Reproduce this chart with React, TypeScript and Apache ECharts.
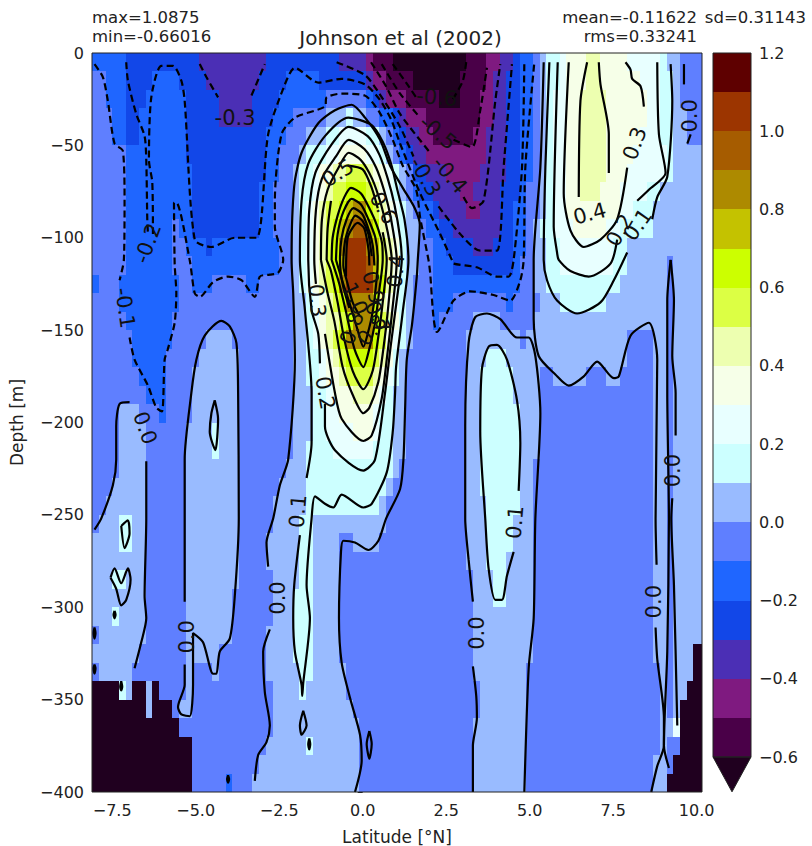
import React, { useEffect, useRef } from "react";
import * as echarts from "echarts";

const FONT = "DejaVu Sans";
const START = -8.105;
const END = 10.16;
const A = -0.65, B = -0.55, C = -0.45, D = -0.35, E = -0.25, F = -0.15, G = -0.05, H = 0.05, I = 0.15, J = 0.25,
  K = 0.35, L = 0.45, M = 0.55, N = 0.65, O = 0.75, P = 0.85, Q = 0.95, R = 1.05;

const levelFloors = [-0.6, -0.5, -0.4, -0.3, -0.2, -0.1, 0, 0.1, 0.2, 0.3, 0.4, 0.5, 0.6, 0.7, 0.8, 0.9, 1.0, 1.1];
const levelColors = ["#4a0048", "#7f1a80", "#4b2fb5", "#1247e8", "#1f66ff", "#5f7fff", "#99bbff", "#ccffff", "#e8ffff",
  "#f6ffe8", "#edffb0", "#dcff44", "#ccff00", "#c4c200", "#ad8a00", "#a65c00", "#9c3500", "#5e0000"];
const underColor = "#20001f";
const statsLeft = ["max=1.0875", "min=-0.66016"];
const statsRight = ["mean=-0.11622", "rms=0.33241"];
const statSd = "sd=0.31143";
const latTicks = [-7.5, -5, -2.5, 0, 2.5, 5, 7.5, 10];

// Each row is a 10 m band of the section; each run is [eastern edge in deg N, value].
const cellRows: number[][][] = [
  [[-7.1,F],[-4.9,E],[-2.9,D],[-.7,E],[.1,D],[.3,C],[.9,B],[3.1,A],[3.7,B],[4.1,C],[4.5,D],[4.7,E],[5.1,F],[5.3,G],[5.5,H],[5.9,I],[6.1,J],[6.7,K],[7.1,L],[7.9,K],[8.9,J],[9.1,I],[9.5,H],[END,G]],
  [[-7.7,G],[-7.1,F],[-6.3,E],[-5.5,F],[-4.7,E],[-3.1,D],[-2.3,E],[-1.3,F],[.1,E],[.3,D],[.7,C],[1.5,B],[2.9,A],[3.7,B],[3.9,C],[4.3,D],[4.7,E],[5.1,F],[5.3,G],[5.5,H],[5.9,I],[6.1,J],[6.7,K],[7.1,L],[8.3,K],[8.9,J],[9.3,I],[9.5,H],[END,G]],
  [[-7.7,G],[-7.1,F],[-6.5,E],[-5.3,F],[-4.3,E],[-3.3,D],[-2.5,E],[-1.1,F],[.1,G],[.3,F],[.5,E],[.7,D],[1.3,C],[2.3,B],[2.9,A],[3.5,B],[3.9,C],[4.3,D],[4.7,E],[5.1,F],[5.3,G],[5.5,H],[5.7,I],[6.1,J],[6.5,K],[7.3,L],[8.5,K],[8.9,J],[9.3,I],[9.5,H],[END,G]],
  [[-7.5,G],[-7.1,F],[-6.7,E],[-5.3,F],[-4.3,E],[-3.3,D],[-2.7,E],[-2.1,F],[-1.1,G],[-.5,H],[-.3,I],[.1,H],[.5,G],[.9,F],[1.1,E],[1.3,D],[1.9,C],[3.5,B],[3.9,C],[4.3,D],[4.7,E],[5.1,F],[5.3,G],[5.5,H],[5.7,I],[6.1,J],[6.5,K],[7.3,L],[8.5,K],[8.9,J],[9.3,I],[9.7,H],[END,G]],
  [[-7.5,G],[-7.1,F],[-6.7,E],[-5.3,F],[-2.9,E],[-2.3,F],[-1.7,G],[-1.1,H],[-.7,I],[.1,J],[.5,I],[.7,H],[.9,G],[1.1,F],[1.3,E],[1.7,D],[2.1,C],[3.3,B],[3.7,C],[4.3,D],[4.7,E],[5.1,F],[5.3,G],[5.5,H],[5.7,I],[6.1,J],[6.5,K],[7.3,L],[8.3,K],[8.9,J],[9.3,I],[9.7,H],[END,G]],
  [[-7.1,G],[-5.3,F],[-2.9,E],[-2.5,F],[-1.9,G],[-1.7,H],[-1.1,I],[-.7,J],[.1,K],[.5,J],[.7,I],[.9,H],[1.1,G],[1.3,F],[1.5,E],[1.9,D],[3.7,C],[4.3,D],[4.7,E],[5.1,F],[5.3,G],[5.5,H],[5.7,I],[6.1,J],[6.5,K],[7.3,L],[8.1,K],[9.1,J],[9.3,I],[END,H]],
  [[-7.1,G],[-5.1,F],[-2.9,E],[-2.5,F],[-2.1,G],[-1.9,H],[-1.5,I],[-1.3,J],[-.9,K],[-.5,L],[.1,M],[.3,L],[.7,K],[.9,J],[1.1,I],[1.3,H],[1.5,G],[1.9,E],[2.5,D],[3.5,C],[4.3,D],[4.7,E],[5.1,F],[5.3,G],[5.5,H],[5.7,I],[6.1,J],[6.5,K],[7.3,L],[7.9,K],[9.1,J],[9.3,I],[END,H]],
  [[-7.1,G],[-5.1,F],[-3.1,E],[-2.7,F],[-2.1,G],[-1.9,H],[-1.5,I],[-1.3,J],[-1.1,K],[-.9,L],[-.5,M],[.1,N],[.3,M],[.5,L],[.7,K],[.9,J],[1.1,I],[1.3,H],[1.5,G],[1.7,F],[2.1,E],[2.9,D],[3.3,C],[4.1,D],[4.7,E],[4.9,F],[5.3,G],[5.5,H],[5.7,I],[6.1,J],[6.5,K],[7.1,L],[7.7,K],[8.5,J],[8.9,I],[END,H]],
  [[-7.1,G],[-5.1,F],[-3.1,E],[-2.7,F],[-2.1,G],[-1.9,H],[-1.7,I],[-1.5,J],[-1.3,K],[-1.1,L],[-.7,M],[-.5,N],[-.3,O],[.1,P],[.3,N],[.5,M],[.7,L],[.9,K],[1.1,J],[1.3,I],[1.5,H],[1.7,G],[2.1,F],[2.3,E],[3.1,D],[3.5,C],[4.1,D],[4.5,E],[4.9,F],[5.3,G],[5.5,H],[5.7,I],[6.1,J],[7.7,K],[8.1,J],[8.7,I],[END,H]],
  [[-7.1,G],[-5.7,F],[-5.5,G],[-5.1,F],[-3.1,E],[-2.7,F],[-2.1,G],[-1.9,H],[-1.7,I],[-1.5,J],[-1.3,K],[-1.1,L],[-.9,M],[-.7,N],[-.5,O],[-.3,P],[.1,Q],[.3,O],[.5,N],[.7,L],[.9,K],[1.1,J],[1.3,I],[1.7,H],[1.9,G],[2.3,F],[2.7,E],[4.1,D],[4.5,E],[4.9,F],[5.1,G],[5.3,H],[5.7,I],[6.3,J],[7.3,K],[7.7,J],[8.7,I],[END,H]],
  [[-7.1,G],[-5.7,F],[-5.3,G],[-4.7,F],[-4.5,E],[-2.5,F],[-2.1,G],[-1.9,H],[-1.7,I],[-1.5,J],[-1.3,K],[-1.1,L],[-.9,M],[-.7,N],[-.5,P],[.1,R],[.3,P],[.5,O],[.7,M],[.9,L],[1.1,K],[1.3,I],[1.7,H],[2.1,G],[2.5,F],[3.3,E],[3.9,D],[4.5,E],[4.9,F],[5.1,G],[5.5,H],[5.9,I],[7.5,J],[7.9,I],[END,H]],
  [[-7.1,G],[-5.7,F],[-5.1,G],[-2.5,F],[-2.1,G],[-1.9,H],[-1.7,I],[-1.5,J],[-1.3,K],[-1.1,L],[-.9,M],[-.7,N],[-.5,O],[.1,R],[.3,Q],[.5,O],[.7,M],[.9,L],[1.1,K],[1.3,I],[1.7,H],[2.1,G],[2.7,F],[4.5,E],[4.7,F],[5.1,G],[5.5,H],[5.9,I],[7.5,J],[7.9,I],[9.1,H],[9.3,G],[END,H]],
  [[-7.9,F],[-7.3,G],[-5.5,F],[-5.1,G],[-4.5,F],[-3.5,G],[-3.1,F],[-2.1,G],[-1.9,H],[-1.7,I],[-1.5,J],[-1.3,K],[-1.1,L],[-.9,M],[-.7,N],[-.5,P],[.3,R],[.5,P],[.7,N],[.9,L],[1.1,J],[1.3,I],[1.5,H],[2.1,G],[4.7,F],[5.1,G],[5.5,H],[7.7,I],[9.1,H],[9.3,G],[END,H]],
  [[-7.3,G],[-5.5,F],[-2.1,G],[-1.7,H],[-1.5,I],[-1.3,J],[-1.1,K],[-.9,L],[-.7,M],[-.5,N],[.3,P],[.5,N],[.7,L],[.9,K],[1.1,J],[1.3,I],[1.5,H],[2.1,G],[2.7,F],[4.3,G],[4.5,F],[5.3,G],[5.9,H],[7.3,I],[9.1,H],[9.3,G],[END,H]],
  [[-7.1,G],[-5.7,F],[-2.1,G],[-1.7,H],[-1.5,I],[-1.3,J],[-1.1,K],[-.7,L],[-.5,M],[-.3,N],[.3,P],[.5,N],[.7,M],[.9,L],[1.1,K],[1.3,I],[1.5,H],[2.1,G],[2.3,F],[3.3,G],[4.1,H],[5.1,G],[9.1,H],[9.3,G],[END,H]],
  [[-6.9,G],[-5.7,F],[-4.7,G],[-3.9,H],[-2.1,G],[-1.7,H],[-1.5,I],[-1.3,J],[-1.1,K],[-.9,L],[-.7,M],[-.5,N],[.3,P],[.5,N],[.7,M],[.9,K],[1.1,J],[1.3,I],[1.5,H],[3.1,G],[4.7,H],[4.9,G],[7.9,H],[8.7,G],[9.1,H],[9.3,G],[END,H]],
  [[-6.9,G],[-5.9,F],[-4.9,G],[-3.7,H],[-2.1,G],[-1.7,H],[-1.3,I],[-1.1,J],[-.9,K],[-.7,L],[-.5,M],[.3,N],[.5,M],[.7,L],[.9,K],[1.1,I],[1.3,H],[3.1,G],[3.7,H],[4.3,I],[7.9,H],[8.7,G],[9.1,H],[9.3,G],[END,H]],
  [[-6.7,G],[-5.9,F],[-5.1,G],[-3.7,H],[-2.1,G],[-1.7,H],[-1.3,I],[-1.1,J],[-.7,K],[-.5,L],[.3,M],[.5,L],[.7,K],[.9,J],[1.1,I],[1.3,H],[3.1,G],[3.5,H],[4.5,I],[5.3,H],[5.7,G],[6.7,H],[7.3,G],[7.7,H],[8.7,G],[9.1,H],[9.3,G],[END,H]],
  [[-6.5,G],[-5.9,F],[-5.1,G],[-3.7,H],[-2.1,G],[-1.5,H],[-1.1,I],[-.9,J],[-.3,K],[.3,L],[.5,K],[.7,J],[.9,I],[1.3,H],[3.1,G],[3.5,H],[4.5,I],[5.3,H],[8.7,G],[9.1,H],[9.3,G],[END,H]],
  [[-7.3,G],[-6.7,H],[-6.1,G],[-5.9,F],[-5.1,G],[-3.7,H],[-2.1,G],[-1.5,H],[-1.1,I],[-.7,J],[.3,K],[.5,J],[.9,I],[1.3,H],[3.1,G],[3.5,H],[4.7,I],[5.3,H],[8.7,G],[9.1,H],[9.3,G],[END,H]],
  [[-7.3,G],[-6.5,H],[-5.3,G],[-4.5,H],[-4.3,I],[-3.7,H],[-2.1,G],[-1.5,H],[-1.1,I],[-.3,J],[.3,K],[.5,J],[.9,I],[1.3,H],[3.1,G],[3.5,H],[4.7,I],[5.3,H],[8.7,G],[9.1,H],[9.3,G],[END,H]],
  [[-7.3,G],[-6.5,H],[-5.3,G],[-4.5,H],[-4.3,I],[-3.7,H],[-2.1,G],[-1.7,H],[-.9,I],[.3,J],[.9,I],[1.3,H],[3.1,G],[3.5,H],[4.7,I],[5.3,H],[8.7,G],[9.1,H],[9.3,G],[END,H]],
  [[-7.3,G],[-6.5,H],[-5.3,G],[-3.7,H],[-2.3,G],[-1.7,H],[.9,I],[1.1,H],[3.1,G],[3.5,H],[4.7,I],[5.1,H],[8.7,G],[9.1,H],[9.3,G],[END,H]],
  [[-7.5,G],[-6.5,H],[-5.3,G],[-3.7,H],[-2.5,G],[-1.7,H],[.7,I],[.9,H],[3.1,G],[3.5,H],[4.7,I],[5.1,H],[8.7,G],[9.1,H],[9.3,G],[END,H]],
  [[-7.7,G],[-6.5,H],[-5.3,G],[-3.7,H],[-2.7,G],[-1.7,H],[.5,I],[.7,H],[3.1,G],[3.7,H],[4.7,I],[5.1,H],[8.7,G],[9.1,H],[9.3,G],[END,H]],
  [[-7.9,G],[-7.3,H],[-6.9,I],[-6.5,H],[-5.3,G],[-3.7,H],[-2.7,G],[-1.9,H],[-1.5,I],[.7,H],[3.1,G],[3.7,H],[4.5,I],[5.1,H],[8.7,G],[9.1,H],[9.3,G],[END,H]],
  [[-7.3,H],[-6.9,I],[-6.5,H],[-5.3,G],[-3.7,H],[-2.9,G],[-1.9,H],[-1.5,I],[-.7,H],[-.3,G],[.5,H],[3.1,G],[3.7,H],[4.5,I],[5.1,H],[8.7,G],[9.1,H],[9.3,G],[END,H]],
  [[-6.5,H],[-5.3,G],[-3.7,H],[-2.9,G],[-1.9,H],[-1.5,I],[-.7,H],[3.1,G],[3.7,H],[4.3,I],[5.1,H],[8.7,G],[9.1,H],[9.3,G],[END,H]],
  [[-7.5,H],[-7.1,I],[-6.5,H],[-5.3,G],[-3.7,H],[-2.7,G],[-1.9,H],[-1.5,I],[-.7,H],[3.3,G],[3.9,H],[4.3,I],[5.1,H],[8.7,G],[9.1,H],[9.3,G],[END,H]],
  [[-6.5,H],[-5.3,G],[-3.9,H],[-2.7,G],[-2.1,H],[-1.5,I],[-.7,H],[3.3,G],[3.9,H],[4.3,I],[5.1,H],[8.7,G],[9.1,H],[9.3,G],[END,H]],
  [[-7.5,H],[-7.3,I],[-6.5,H],[-5.3,G],[-3.9,H],[-2.7,G],[-2.1,H],[-1.5,I],[-.7,H],[3.3,G],[5.1,H],[8.7,G],[9.1,H],[9.3,G],[END,H]],
  [[-7.9,G],[-6.5,H],[-5.3,G],[-3.9,H],[-2.9,G],[-2.1,H],[-1.5,I],[-.7,H],[3.3,G],[5.1,H],[8.7,G],[9.1,H],[9.3,G],[END,H]],
  [[-6.7,H],[-5.3,G],[-4.3,H],[-2.9,G],[-2.1,H],[-1.5,I],[-.7,H],[3.3,G],[5.1,H],[8.7,G],[9.1,H],[9.3,G],[9.9,H],[END,A]],
  [[-7.9,G],[-6.9,H],[-5.3,G],[-5.1,H],[-4.5,G],[-4.3,H],[-2.9,G],[-1.9,H],[-1.5,I],[-.5,H],[3.3,G],[4.9,H],[8.9,G],[9.1,H],[9.3,G],[9.9,H],[END,A]],
  [[-7.3,A],[-7.1,I],[-6.9,H],[-6.5,A],[-6.3,H],[-6.1,A],[-5.3,G],[-5.1,H],[-2.7,G],[-1.9,H],[-1.7,I],[-.5,H],[3.5,G],[4.9,H],[8.9,G],[9.1,H],[9.3,G],[9.7,H],[END,A]],
  [[-6.5,A],[-6.3,H],[-5.7,A],[-5.5,G],[-5.1,H],[-2.7,G],[-.3,H],[3.5,G],[4.9,H],[8.9,G],[9.1,H],[9.3,G],[9.5,H],[END,A]],
  [[-5.5,A],[-2.7,G],[-.1,H],[3.3,G],[4.9,H],[8.9,G],[9.3,H],[9.5,J],[END,A]],
  [[-5.1,A],[-2.9,G],[-1.7,H],[-1.5,I],[-.1,H],[3.3,G],[4.9,H],[8.9,G],[9.1,H],[9.5,G],[END,A]],
  [[-5.1,A],[-3.1,G],[-.1,H],[3.3,G],[4.9,H],[8.7,G],[9.1,H],[9.3,G],[END,A]],
  [[-5.1,A],[-4.1,G],[-3.9,F],[-3.3,G],[-.1,H],[3.3,G],[4.9,H],[8.7,G],[9.1,H],[END,A]],
];

// Contour strands as [latitude, depth in m]; labels interrupt them as in the original.
const negativeContours: number[][][] = [
  [[-8.03,6],[-7.78,13],[-7.63,26],[-7.43,49],[-7.18,53],[-7.13,80],[-7.15,112],[-7.28,123]],
  [[-6.98,154],[-6.83,166],[-6.43,180],[-6.18,192],[-6.01,194],[-5.93,166],[-5.83,160],[-5.63,146],[-5.58,130],[-5.63,114],[-5.65,81],[-5.58,81],[-5.18,112],[-5.03,130],[-4.88,132],[-4.48,124],[-4.03,121],[-3.63,123],[-3.23,132],[-3.08,121],[-2.78,120],[-2.53,119],[-2.38,112],[-2.63,94],[-2.63,80],[-2.43,44],[-2.03,35],[-1.13,29],[-1.08,24],[-.63,22],[.06,23],[.5,32],[.9,47],[1.2,61],[1.6,74],[1.72,89],[1.97,112],[2.02,119],[2.12,143],[2.22,151],[2.72,134],[3.22,129],[3.92,131],[4.42,134],[4.72,123],[4.82,112],[4.87,62],[5.14,5]],
  [[-7.08,5],[-7.03,15],[-6.78,33],[-6.53,45],[-6.48,58],[-6.45,90],[-6.43,98]],
  [[-6.28,98],[-6.3,70],[-6.4,58],[-6.33,24],[-6.03,7],[-5.68,7],[-5.43,15],[-5.33,26],[-5.03,101],[-4.53,105],[-3.83,100],[-3.18,100],[-2.83,44],[-2.33,17],[-2.03,8],[-1.33,16],[-.63,14],[.07,17],[.5,25],[.85,36],[1.12,49],[1.72,76],[2.32,98],[2.67,112],[2.72,114],[3.42,116],[4.02,121],[4.37,121],[4.52,112],[4.77,62],[4.84,5]],
  [[-4.88,6],[-4.68,13],[-4.33,24]],
  [[-3.33,23],[-2.93,6]],
  [[-.78,5],[.07,12],[.5,22],[1.12,40],[1.52,56]],
  [[2.27,83],[2.92,98],[3.52,107],[4.02,107],[4.22,62],[4.47,6]],
  [[.25,5],[.7,18],[1.12,33],[2.02,54]],
  [[3.02,78],[3.27,84],[3.62,80],[3.97,26],[4.12,6]],
  [[.57,6],[1.12,22],[1.72,35]],
  [[2.72,47],[3.27,51],[3.52,31],[3.72,8]],
  [[.9,6],[1.3,16],[1.6,24]],
  [[2.7,25],[3.0,15],[3.1,5]],
];

const solidContours: number[][][] = [
  // 0.0 around the jet and south of it
  [[-3.23,394],[-3.13,380],[-2.88,373],[-2.78,364],[-2.93,346],[-2.98,324],[-2.78,312]],
  [[-2.83,278],[-2.88,265],[-2.68,252],[-2.48,234],[-2.23,220],[-2.03,166],[-2.08,130],[-2.13,112],[-2.05,72],[-1.83,54],[-1.33,38],[-.83,31],[-.33,28],[.07,35],[.52,47],[.82,61],[1.2,73],[1.56,84],[1.71,93],[1.65,112],[1.62,121],[1.47,148],[1.32,166],[1.27,193],[1.22,220],[1.12,236],[.7,252],[.47,264],[.17,269],[-.23,265],[-.58,264],[-.65,270],[-.71,306],[-.63,330],[-.38,349],[-.08,369],[-.03,383],[-.23,400]],
  // 0.1 to 1.0 nested in the jet
  [[-1.68,230],[-1.53,211],[-1.53,184],[-1.73,139],[-1.88,112],[-1.83,80],[-1.63,60],[-1.13,45],[-.43,35],[.27,39],[.6,48],[.85,60],[1.05,75],[1.25,90],[1.37,112],[1.2,140],[1.0,170],[.97,184],[.9,205],[.72,227],[.27,244],[.02,246],[-.63,239],[-.88,246],[-1.13,244],[-1.43,240],[-1.53,252],[-1.68,288],[-1.58,306],[-1.78,341],[-1.81,348],[-1.83,342],[-2.03,324],[-2.08,306],[-2.05,288],[-1.88,261]],
  [[-1.28,168],[-1.33,152],[-1.53,139],[-1.63,112],[-1.6,85],[-1.42,65],[-.95,50],[-.42,40],[.15,45],[.5,55],[.75,68],[.95,82],[1.12,100],[1.17,112],[1.07,127],[.85,157],[.67,184],[.37,220],[.02,226],[-.83,215],[-1.13,202],[-1.13,190]],
  [[-1.4,125],[-1.45,112],[-1.4,85],[-1.22,68],[-.8,56],[-.42,47],[.05,52],[.4,62],[.65,75],[.85,90],[1.02,112],[.87,142],[.72,166],[.57,187],[.27,207],[.02,210],[-.63,198],[-.83,184],[-1.13,152]],
  [[-1.25,112],[-1.22,90],[-1.05,74],[-.72,62],[-.42,54],[-.05,58],[.28,68],[.55,82],[.75,97],[.87,112],[.75,140],[.62,160],[.47,178],[.2,192],[.02,195],[-.3,185],[-.6,170],[-.85,145],[-1.05,130],[-1.25,112]],
  [[-1.08,112],[-1.05,95],[-.95,80]],
  [[-.45,61],[0,63],[.27,73],[.45,84]],
  [[.6,97],[.72,112],[.6,135],[.48,152],[.3,172],[.02,182],[-.3,172],[-.55,155],[-.75,135],[-.95,118],[-1.08,112]],
  [[-.93,112],[-.9,100],[-.75,88],[-.55,78],[-.35,73],[-.05,76],[.2,84],[.42,93],[.58,103],[.6,112],[.5,128],[.38,145],[.2,160],[.02,170],[-.25,160],[-.5,140],[-.7,125],[-.93,112]],
  [[-.8,112],[-.75,98],[-.58,86],[-.33,79],[-.05,82],[.17,90],[.38,100],[.45,112],[.42,122],[.3,140],[.15,152],[.02,159],[-.15,150],[-.4,135],[-.6,124],[-.8,112]],
  [[-.4,138],[-.6,125],[-.68,112],[-.63,100],[-.48,90],[-.28,84],[-.02,87],[.15,94],[.3,104],[.35,115]],
  [[-.1,142],[-.3,135],[-.45,125],[-.58,115],[-.53,102],[-.38,93],[-.22,88],[0,91],[.17,98],[.27,110]],
  [[-.5,121],[-.45,100],[-.15,92],[.05,95],[.18,107],[.2,115]],
  // 0.0 and 0.1 west of the jet
  [[-6.98,189],[-7.28,190],[-7.38,202],[-7.38,220],[-7.48,234],[-7.83,252],[-8.03,258]],
  [[-6.83,333],[-6.63,319],[-6.48,306],[-6.53,294],[-6.48,252],[-6.48,221]],
  [[-7.23,256],[-7.13,268],[-6.98,260],[-7.03,253],[-7.23,256]],
  [[-7.55,284],[-7.43,279],[-7.23,287],[-7.03,279],[-6.95,285],[-7.08,296],[-7.23,299],[-7.38,290],[-7.55,284]],
  [[-5.33,297],[-5.33,252],[-5.33,220],[-5.13,184],[-4.98,166],[-4.73,153],[-4.23,145],[-3.98,148],[-3.78,157],[-3.73,184],[-3.71,252],[-3.83,294],[-3.98,317],[-4.28,324],[-4.38,336],[-4.48,336],[-4.78,319],[-5.08,314],[-5.08,342],[-5.18,359],[-5.43,358],[-5.53,354],[-5.33,342],[-5.33,331]],
  [[-4.43,188],[-4.33,198],[-4.41,215],[-4.58,205],[-4.53,195],[-4.43,188]],
  [[-1.78,356],[-1.68,364],[-1.83,369],[-1.88,364],[-1.78,356]],
  [[.2,367],[.27,374],[.2,382],[.12,374],[.2,367]],
  // east of the jet
  [[3.3,400],[3.3,375],[3.42,360],[3.4,348],[3.3,332]],
  [[3.3,297],[3.17,274],[3.07,252],[3.07,202],[3.17,157],[3.37,143],[3.72,141],[4.12,144],[4.62,154],[4.97,154],[5.17,164],[5.32,195],[5.17,252],[5.12,306],[4.97,333],[4.84,400]],
  [[5.42,5],[5.32,62],[5.12,112],[5.12,144],[5.27,164],[5.77,174],[6.17,180],[6.62,175],[7.02,167],[7.52,176],[7.67,175],[8.02,153],[8.57,146],[8.82,166],[8.77,252],[8.8,277]],
  [[8.77,311],[8.82,328],[9.02,360],[9.02,375],[8.82,386],[8.64,400]],
  [[9.22,112],[9.12,134],[9.12,184],[9.17,252],[9.12,324],[9.02,375],[9.17,387]],
  [[9.22,112],[9.32,134],[9.27,164],[9.37,184],[9.37,207]],
  [[9.27,241],[9.24,252],[9.32,288],[9.42,364]],
  [[5.59,5],[5.47,62],[5.42,112],[5.52,123],[5.82,134],[6.42,141],[7.12,135],[7.52,123],[7.92,108]],
  [[8.67,90],[8.82,78],[9.12,67],[9.27,26],[9.22,6]],
  [[5.84,5],[5.72,94],[5.82,108],[5.87,112],[6.22,118],[6.77,121],[7.42,114],[7.62,101]],
  [[8.22,80],[8.57,74],[9.07,65],[8.87,44],[8.82,5]],
  [[6.17,5],[6.02,76],[6.22,96],[6.62,105],[7.12,101],[7.62,90],[7.92,62]],
  [[8.42,29],[8.32,18],[8.07,14],[8.02,9],[7.87,5]],
  [[6.72,5],[6.52,26],[6.47,78]],
  [[7.37,65],[7.37,44],[7.12,17],[7.07,5]],
  [[9.62,6],[9.62,17]],
  [[9.82,44],[9.72,49]],
  // 0.1 tongue at 4 N
  [[4.67,237],[4.72,211],[4.62,188],[4.32,166],[4.02,158],[3.77,159],[3.57,171],[3.52,205],[3.67,252],[3.77,279],[3.97,296],[4.17,296],[4.32,283],[4.52,270]],
  // tiny closed rings
  [[-1.6,371],[-1.57,374],[-1.6,377],[-1.63,374],[-1.6,371]],
  [[-4.03,391],[-4,393],[-4.03,395],[-4.06,393],[-4.03,391]],
  [[-7.43,302],[-7.4,304],[-7.43,306],[-7.46,304],[-7.43,302]],
  [[-8.03,311],[-8,314],[-8.03,317],[-8.06,314],[-8.03,311]],
  [[-8.03,331],[-8,333],[-8.03,336],[-8.06,333],[-8.03,331]],
  [[-7.23,340],[-7.2,343],[-7.23,345],[-7.26,343],[-7.23,340]],
];

// [latitude, depth, text, angle in degrees]
const contourLabels: [number, number, string, number][] = [
  [-3.82,35,"-0.3",0],[-6.43,103,"-0.2",70],[-7.12,138,"-0.1",-82],[-6.52,203,"0.0",-70],[-.74,65,"0.5",33],[.61,84,"0.6",-60],
  [1.0,118,"0.4",85],[-1.37,134,"0.3",-85],[-1.13,184,"0.2",-80],[-1.94,248,"0.1",85],[-2.54,295,"0.0",90],[-5.26,316,"0.0",90],
  [3.42,314,"0.0",90],[8.72,297,"0.0",90],[9.29,226,"0.0",90],[9.8,34,"0.0",90],[4.56,254,"0.1",85],[8.15,49,"0.3",70],
  [6.8,87,"0.4",15],[7.7,96,"0.2",60],[8.24,93,"0.1",55],[2.22,24,"-0.6",-5],[2.25,43,"-0.5",-40],[2.61,66,"-0.4",-50],[1.87,67,"-0.3",-60],
  [-.23,133,"1.0",-65],[.31,127,"0.9",-75],[.45,143,"0.7",-65],[.28,150,"0.8",50],[-.32,149,"0.8",70],
];

function colorOf(v: number): string {
  if (v < levelFloors[0]) return underColor;
  let idx = 0;
  levelFloors.forEach((f, i) => { if (v >= f) idx = i; });
  return levelColors[idx];
}

function buildOption() {
  const cells: number[][] = [];
  cellRows.forEach((row, r) => {
    let west = START;
    row.forEach(([east, v]) => {
      cells.push([west, east, -r * 10, -(r + 1) * 10, v]);
      west = east;
    });
  });
  const lineSeries = (list: number[][][], dashed: boolean) =>
    list.map((pts) => ({
      type: "line", xAxisIndex: 0, yAxisIndex: 0, z: 4, silent: true, symbol: "none", showSymbol: false, smooth: 0.25,
      clip: true, animation: false,
      lineStyle: { color: "#000", width: 2.2, type: dashed ? [7, 4] : "solid", cap: "butt" },
      data: pts.map(([lat, d]) => [lat, -d]),
    }));
  const fmt = (v: number) => v.toFixed(1).replace("-", "\u2212");
  return {
    animation: false,
    backgroundColor: "#fff",
    textStyle: { fontFamily: FONT },
    title: {
      text: "Johnson et al (2002)", left: 395.5, top: 23, textAlign: "center",
      textStyle: { fontFamily: FONT, fontSize: 20, fontWeight: "normal", color: "#222" },
    },
    grid: [
      { left: 92, top: 53, width: 610, height: 739, outerBoundsMode: "none" },
      { left: 713, top: 53, width: 38, height: 704, outerBoundsMode: "none" },
    ],
    xAxis: [
      {
        type: "value", gridIndex: 0, min: START, max: END, name: "Latitude [\u00b0N]", nameLocation: "middle", nameGap: 36,
        nameTextStyle: { fontFamily: FONT, fontSize: 17, color: "#222" },
        splitLine: { show: false },
        axisLine: { show: false },
        axisTick: { show: true, length: 5, inside: false, customValues: latTicks, lineStyle: { color: "#222" } },
        axisLabel: { show: true, customValues: latTicks, margin: 10, fontFamily: FONT, fontSize: 16, color: "#222", formatter: fmt },
      },
      { type: "value", gridIndex: 1, min: 0, max: 1, show: false },
    ],
    yAxis: [
      {
        type: "value", gridIndex: 0, min: -400, max: 0, interval: 50, name: "Depth [m]", nameLocation: "middle", nameGap: 67,
        nameTextStyle: { fontFamily: FONT, fontSize: 17, color: "#222" },
        splitLine: { show: false },
        axisLine: { show: false },
        axisTick: { show: true, length: 5, lineStyle: { color: "#222" } },
        axisLabel: { margin: 8, fontFamily: FONT, fontSize: 16, color: "#222", formatter: (v: number) => String(v).replace("-", "\u2212") },
      },
      {
        type: "value", gridIndex: 1, position: "right", min: -0.6, max: 1.2, interval: 0.2,
        splitLine: { show: false },
        axisLine: { show: false },
        axisTick: { show: true, length: 5, lineStyle: { color: "#222" } },
        axisLabel: { margin: 8, fontFamily: FONT, fontSize: 16, color: "#222", formatter: fmt },
      },
    ],
    series: [
      {
        type: "custom", xAxisIndex: 0, yAxisIndex: 0, z: 2, silent: true, clip: true,
        data: cells,
        renderItem: (_p: any, api: any) => {
          const a = api.coord([api.value(0), api.value(2)]);
          const b = api.coord([api.value(1), api.value(3)]);
          const x0 = Math.round(a[0]), x1 = Math.round(b[0]), y0 = Math.round(a[1]), y1 = Math.round(b[1]);
          return { type: "rect", shape: { x: x0, y: y0, width: x1 - x0, height: y1 - y0 }, style: { fill: colorOf(api.value(4)) } };
        },
      },
      ...lineSeries(negativeContours, true),
      ...lineSeries(solidContours, false),
      {
        type: "custom", xAxisIndex: 0, yAxisIndex: 0, z: 5, silent: true, clip: false,
        data: contourLabels.map(([lat, d, , ang], i) => [lat, -d, ang, i]),
        renderItem: (_p: any, api: any) => {
          const c = api.coord([api.value(0), api.value(1)]);
          return {
            type: "text", x: c[0], y: c[1], rotation: (api.value(2) * Math.PI) / 180,
            style: { text: contourLabels[api.value(3)][2], fontFamily: FONT, fontSize: 21, fill: "#111", align: "center", verticalAlign: "middle" },
          };
        },
      },
      {
        type: "custom", xAxisIndex: 1, yAxisIndex: 1, z: 2, silent: true, clip: false,
        data: levelFloors.map((f, i) => [f, i]),
        renderItem: (_p: any, api: any) => {
          const f = api.value(0);
          const a = api.coord([0, f]);
          const b = api.coord([1, f + 0.1]);
          const y0 = Math.round(b[1]), y1 = Math.round(a[1]);
          return { type: "rect", shape: { x: a[0], y: y0, width: b[0] - a[0], height: y1 - y0 }, style: { fill: levelColors[api.value(1)] } };
        },
      },
      {
        type: "custom", xAxisIndex: 1, yAxisIndex: 1, z: 2, silent: true, clip: false,
        data: [[-0.6, -0.689]],
        renderItem: (_p: any, api: any) => {
          const l = api.coord([0, api.value(0)]);
          const r = api.coord([1, api.value(0)]);
          const t = api.coord([0.5, api.value(1)]);
          return { type: "polygon", shape: { points: [l, r, t] }, style: { fill: underColor, stroke: "#222", lineWidth: 1 } };
        },
      },
    ],
    graphic: [
      { type: "rect", z: 20, silent: true, shape: { x: 92, y: 53, width: 610, height: 739 }, style: { fill: "none", stroke: "#222", lineWidth: 1 } },
      { type: "rect", z: 20, silent: true, shape: { x: 713, y: 53, width: 38, height: 704 }, style: { fill: "none", stroke: "#222", lineWidth: 1 } },
      { type: "text", z: 20, x: 92, y: 17, style: { text: statsLeft[0], fontFamily: FONT, fontSize: 16.5, fill: "#222", align: "left", verticalAlign: "middle" } },
      { type: "text", z: 20, x: 92, y: 36, style: { text: statsLeft[1], fontFamily: FONT, fontSize: 16.5, fill: "#222", align: "left", verticalAlign: "middle" } },
      { type: "text", z: 20, x: 697, y: 17, style: { text: statsRight[0], fontFamily: FONT, fontSize: 16.5, fill: "#222", align: "right", verticalAlign: "middle" } },
      { type: "text", z: 20, x: 697, y: 36, style: { text: statsRight[1], fontFamily: FONT, fontSize: 16.5, fill: "#222", align: "right", verticalAlign: "middle" } },
      { type: "text", z: 20, x: 806, y: 17, style: { text: statSd, fontFamily: FONT, fontSize: 16.5, fill: "#222", align: "right", verticalAlign: "middle" } },
    ],
  };
}

export default function App() {
  const ref = useRef<HTMLDivElement>(null);
  useEffect(() => {
    document.body.style.margin = "0";
    const chart = echarts.init(ref.current!, null, { renderer: "svg" });
    chart.setOption(buildOption() as any);
    return () => chart.dispose();
  }, []);
  return <div ref={ref} style={{ position: "absolute", left: 0, top: 0, width: 812, height: 846 }} />;
}
